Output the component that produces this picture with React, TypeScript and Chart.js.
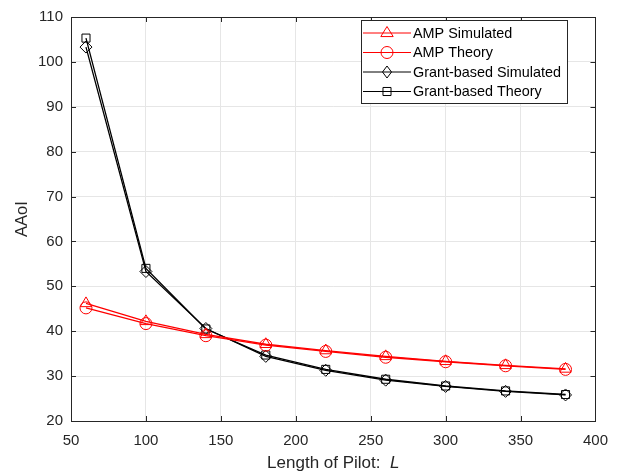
import React, { useEffect, useRef } from "react";
import { Chart, registerables } from "chart.js";

Chart.register(...registerables);

const pilotLengths = [60, 100, 140, 180, 220, 260, 300, 340, 380];
const ampSimulated = [46.2, 42.2, 39.3, 37.1, 35.7, 34.4, 33.3, 32.4, 31.6];
const ampTheory = [45.2, 41.7, 39.0, 36.9, 35.5, 34.2, 33.2, 32.3, 31.5];
const grantSimulated = [103.3, 53.3, 40.6, 34.4, 31.3, 29.1, 27.7, 26.6, 25.8];
const grantTheory = [105.3, 54.0, 40.5, 34.7, 31.5, 29.3, 27.8, 26.7, 25.9];
const xTicks = [50, 100, 150, 200, 250, 300, 350, 400];
const yTicks = [20, 30, 40, 50, 60, 70, 80, 90, 100, 110];
const legendLabels = ["AMP Simulated", "AMP Theory", "Grant-based Simulated", "Grant-based Theory"];

const FONT = "'Liberation Sans', Arial, Helvetica, sans-serif";
const AXIS = "#262626";

const W = 619;
const H = 476;
const LEFT = 71;
const RIGHT = 596;
const TOP = 9;
const BOTTOM = 421;

export default function App() {
  const ref = useRef<HTMLCanvasElement | null>(null);

  useEffect(() => {
    const canvas = ref.current;
    if (!canvas) return;
    const mk = (vals: number[]) => pilotLengths.map((x, i) => ({ x, y: vals[i] }));
    const styles = [
      { color: "#ff0000", point: "triangle", r: 6.5 },
      { color: "#ff0000", point: "circle", r: 6 },
      { color: "#000000", point: "rectRot", r: 6 },
      { color: "#000000", point: "rect", r: 5.7 },
    ];
    const series = [ampSimulated, ampTheory, grantSimulated, grantTheory];

    const boxPlugin = {
      id: "matlabBox",
      afterDraw(chart: any) {
        const ctx = chart.ctx;
        const { left, right, top, bottom } = chart.chartArea;
        const xs = chart.scales.x;
        const ys = chart.scales.y;
        ctx.save();
        ctx.strokeStyle = AXIS;
        ctx.lineWidth = 1;
        ctx.strokeRect(Math.round(left) + 0.5, Math.round(top) + 0.5, Math.round(right - left), Math.round(bottom - top));
        const tl = 5;
        ctx.beginPath();
        xTicks.forEach((v) => {
          const px = Math.round(xs.getPixelForValue(v)) + 0.5;
          ctx.moveTo(px, bottom);
          ctx.lineTo(px, bottom - tl);
          ctx.moveTo(px, top);
          ctx.lineTo(px, top + tl);
        });
        yTicks.forEach((v) => {
          const py = Math.round(ys.getPixelForValue(v)) + 0.5;
          ctx.moveTo(left, py);
          ctx.lineTo(left + tl, py);
          ctx.moveTo(right, py);
          ctx.lineTo(right - tl, py);
        });
        ctx.stroke();

        // axis titles
        ctx.fillStyle = AXIS;
        ctx.textBaseline = "middle";
        const part1 = "Length of Pilot:  ";
        const tf = 17;
        ctx.font = `${tf}px ${FONT}`;
        const w1 = ctx.measureText(part1).width;
        ctx.font = `italic ${tf}px ${FONT}`;
        const w2 = ctx.measureText("L").width;
        const cx = (left + right) / 2;
        const sx = cx - (w1 + w2) / 2;
        ctx.textAlign = "left";
        ctx.font = `${tf}px ${FONT}`;
        ctx.fillText(part1, sx, 463);
        ctx.font = `italic ${tf}px ${FONT}`;
        ctx.fillText("L", sx + w1, 463);

        ctx.save();
        ctx.translate(22, (top + bottom) / 2);
        ctx.rotate(-Math.PI / 2);
        ctx.textAlign = "center";
        ctx.font = `16.5px ${FONT}`;
        ctx.fillText("AAoI", 0, 0);
        ctx.restore();

        // legend
        const lx = 361;
        const ly = 20;
        const lw = 206;
        const lh = 83;
        ctx.fillStyle = "#ffffff";
        ctx.fillRect(lx, ly, lw, lh);
        ctx.strokeStyle = AXIS;
        ctx.lineWidth = 1;
        ctx.strokeRect(lx + 0.5, ly + 0.5, lw, lh);
        legendLabels.forEach((label, i) => {
          const s = styles[i];
          const y = ly + 13 + i * 19.5;
          ctx.strokeStyle = s.color;
          ctx.lineWidth = 1;
          ctx.beginPath();
          ctx.moveTo(lx + 2, y);
          ctx.lineTo(lx + 50, y);
          ctx.stroke();
          drawMarker(ctx, s.point, lx + 26, y, s.r, s.color);
          ctx.fillStyle = "#000000";
          ctx.font = `14.4px ${FONT}`;
          ctx.textAlign = "left";
          ctx.textBaseline = "middle";
          ctx.fillText(label, lx + 52, y + 1);
        });
        ctx.restore();
      },
    };

    const chart = new Chart(canvas, {
      type: "line",
      data: {
        datasets: series.map((vals, i) => ({
          label: legendLabels[i],
          data: mk(vals),
          borderColor: styles[i].color,
          backgroundColor: "rgba(0,0,0,0)",
          borderWidth: 1.3,
          pointStyle: styles[i].point as any,
          pointRadius: styles[i].r,
          pointBorderColor: styles[i].color,
          pointBackgroundColor: "rgba(0,0,0,0)",
          pointBorderWidth: 1,
          tension: 0,
        })),
      },
      options: {
        responsive: false,
        animation: false,
        events: [],
        layout: { padding: { top: TOP, right: W - RIGHT, left: 0, bottom: 0 } },
        plugins: { legend: { display: false }, tooltip: { enabled: false } },
        scales: {
          x: {
            type: "linear",
            min: 50,
            max: 400,
            afterBuildTicks: (s: any) => {
              s.ticks = xTicks.map((v) => ({ value: v }));
            },
            afterFit: (s: any) => {
              s.height = H - BOTTOM;
            },
            grid: { color: "#e6e6e6", drawTicks: false, lineWidth: 1 },
            border: { display: false },
            ticks: {
              color: AXIS,
              padding: 11,
              font: { family: FONT, size: 15 },
              maxRotation: 0,
              callback: (v: any) => String(v),
            },
          },
          y: {
            type: "linear",
            min: 20,
            max: 110,
            afterBuildTicks: (s: any) => {
              s.ticks = yTicks.map((v) => ({ value: v }));
            },
            afterFit: (s: any) => {
              s.width = LEFT;
            },
            grid: { color: "#e6e6e6", drawTicks: false, lineWidth: 1 },
            border: { display: false },
            ticks: {
              color: AXIS,
              padding: 8,
              font: { family: FONT, size: 15 },
              callback: (v: any) => String(v),
            },
          },
        },
      },
      plugins: [boxPlugin],
    });

    return () => chart.destroy();
  }, []);

  return (
    <div style={{ position: "fixed", left: 0, top: 0, width: W, height: H, background: "#ffffff" }}>
      <canvas ref={ref} width={W} height={H} style={{ display: "block" }} />
    </div>
  );
}

function drawMarker(ctx: CanvasRenderingContext2D, style: string, x: number, y: number, r: number, color: string) {
  ctx.save();
  ctx.strokeStyle = color;
  ctx.lineWidth = 1;
  ctx.beginPath();
  if (style === "triangle") {
    ctx.moveTo(x, y - r);
    ctx.lineTo(x + r * 0.866 * 1.1, y + r * 0.5 * 1.1);
    ctx.lineTo(x - r * 0.866 * 1.1, y + r * 0.5 * 1.1);
    ctx.closePath();
  } else if (style === "circle") {
    ctx.arc(x, y, r, 0, Math.PI * 2);
  } else if (style === "rectRot") {
    ctx.moveTo(x, y - r);
    ctx.lineTo(x + r * 0.75, y);
    ctx.lineTo(x, y + r);
    ctx.lineTo(x - r * 0.75, y);
    ctx.closePath();
  } else {
    const h = r * 0.707;
    ctx.rect(x - h, y - h, 2 * h, 2 * h);
  }
  ctx.stroke();
  ctx.restore();
}
